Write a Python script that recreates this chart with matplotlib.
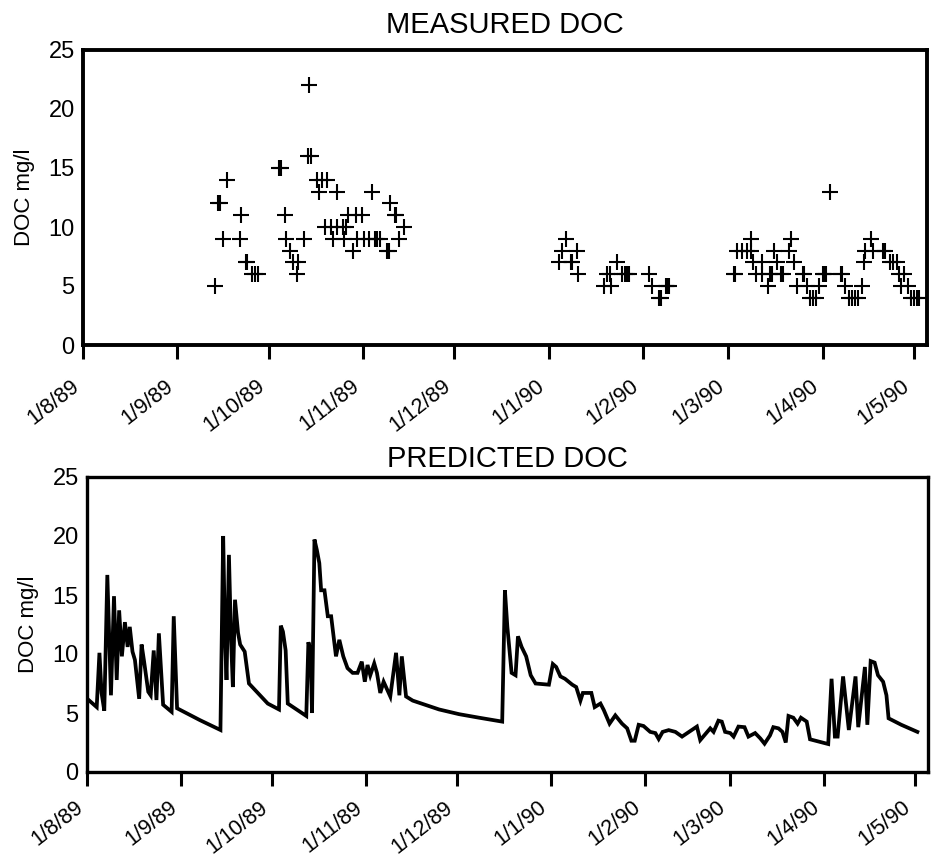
import numpy as np
import matplotlib
matplotlib.use("Agg")
import matplotlib.pyplot as plt
import matplotlib.dates as mdates

plt.rcParams['font.family'] = ['Liberation Sans', 'DejaVu Sans']

# ---------------- data ----------------
start_date = '1989-08-01'   # day 0

measured_day = [43.4, 44.5, 45.0, 46, 47.3, 51.6, 52, 53.5, 54, 55.5, 56.5, 57.5,
                64.5, 65, 66.4, 66.8, 68, 69, 70.8, 70.3, 72.5, 74.1, 74, 75,
                77, 78.6, 80.3, 77.4, 83.4, 79.6, 81.6, 83.6, 85.5, 86.5,
                82.3, 85.6, 90, 92.2, 93.9, 96.1, 96.6, 97.7, 87, 89.6, 91.6,
                88.7, 95, 99.9, 100.6, 101, 102.5, 103, 103.7, 105.4,
                158.6, 157.5, 162.2, 156.3, 160.2, 160.5, 162.7,
                175.5, 172, 173.3, 177.2, 178, 178.6, 179.4, 171.2, 173.4,
                186, 187, 191.5, 192, 192.5, 189.2, 189.8,
                245.5, 219.4, 232.6, 258.9, 215, 216.6, 218, 219.4, 227, 232,
                257, 259.4, 262.7, 263.5,
                220, 223.2, 228, 233.7, 256.7, 265, 266, 267.6,
                214, 214.3, 221, 223.2, 225.8, 226.5, 229.3, 230.1, 236.4, 236.8,
                243, 243.5, 244, 249, 249.3, 268, 269.7,
                225, 234.7, 238, 241.9, 250.3, 256, 268.8, 271,
                239, 239.7, 240.7, 251.6, 252.6, 253.6, 254.6, 272, 273, 274, 274.6]
measured_doc = [5, 12, 12, 9, 14, 9, 11, 7, 7, 6, 6, 6,
                15, 15, 11, 9, 8, 7, 7, 6, 9, 22, 16, 16,
                14, 14, 14, 13, 13, 10, 10, 10, 10, 10,
                9, 9, 9, 9, 9, 9, 9, 9, 11, 11, 11,
                8, 13, 8, 8, 12, 11, 11, 9, 10,
                9, 8, 8, 7, 7, 7, 6,
                7, 6, 6, 6, 6, 6, 6, 5, 5,
                6, 5, 5, 5, 5, 4, 4,
                13, 9, 9, 9, 8, 8, 8, 8, 8, 8,
                8, 8, 8, 8,
                7, 7, 7, 7, 7, 7, 7, 7,
                6, 6, 6, 6, 6, 6, 6, 6, 6, 6,
                6, 6, 6, 6, 6, 6, 6,
                5, 5, 5, 5, 5, 5, 5, 5,
                4, 4, 4, 4, 4, 4, 4, 4, 4, 4, 4]

predicted_day = [0.1, 3.2, 4.1, 4.8, 5.7, 6.7, 7.9, 8.9, 9.8, 10.6, 11.5, 12.5, 13.4,
                 14.1, 15.0, 15.8, 17.2, 18.0, 18.75, 20.2, 21.0, 22.0, 22.9, 23.7,
                 25.1, 27.9, 28.6, 29.7, 37.2, 44.0,
                 44.9, 45.5, 46.0, 46.8, 47.5, 48.1, 48.8, 49.8, 50.5, 52.0, 53.4,
                 59.6, 63.3, 63.9, 64.6, 65.5, 66.2, 72.3, 73.0, 73.7, 74.2, 75.0,
                 75.8, 76.6, 77.2, 78.3, 79.4, 80.5, 82.1, 83.2, 84.5, 85.9, 87.6,
                 89.2, 90.6, 91.6, 92.5, 93.4, 94.7, 95.6, 96.7, 97.8, 100.0, 101.9,
                 103.0, 103.8, 105.2, 107.4, 116.1,
                 122.7, 129.3, 136.9, 137.8, 138.6, 140.0, 141.3, 142.1, 143.3, 144.8,
                 146.3, 147.9, 152.3, 153.6, 154.7, 156.1, 157.6, 160.0, 161.3, 162.7,
                 163.5, 166.3, 167.4, 169.3, 170.4, 172.3, 174.2, 176.4, 178.1, 179.5,
                 180.6, 181.9, 183.5, 185.7, 187.4, 188.5, 189.8, 191.8, 194.0,
                 196.2, 201.1, 202.2, 205.5, 206.6, 208.2, 209.3, 210.4, 212.1, 213.2,
                 214.8, 216.8, 218.1, 220.3, 222.0, 223.4, 225.2, 226.3, 228.0, 229.3,
                 230.4, 231.3, 232.9, 234.3, 235.4, 237.3, 238.4, 244.4, 245.5, 246.6,
                 247.5, 249.3, 251.2, 253.4, 254.3, 256.5, 257.3, 258.4, 259.7, 260.8,
                 262.5, 263.6, 264.3, 268.5, 273.8]
predicted_doc = [6.2, 5.5, 10.1, 6.7, 5.2, 16.7, 6.5, 14.9, 7.8, 13.7, 9.8, 12.7, 10.6,
                 12.3, 10.2, 9.5, 6.2, 10.8, 9.5, 6.8, 6.5, 10.3, 6.1, 11.75,
                 5.7, 5.1, 13.2, 5.4, 4.4, 3.56,
                 20.0, 11.5, 7.8, 18.4, 11.2, 7.2, 14.6, 11.8, 10.8, 10.2, 7.5,
                 5.8, 5.3, 12.4, 11.9, 10.3, 5.8, 4.75, 11.0, 10.3, 5.0, 19.7,
                 18.8, 17.7, 15.4, 15.4, 13.2, 13.2, 9.8, 11.2, 9.8, 8.8, 8.4,
                 8.4, 9.35, 7.65, 9.07, 8.2, 9.2, 8.4, 6.7, 7.65, 6.4, 10.1,
                 6.5, 9.8, 6.4, 6.05, 5.3,
                 4.9, 4.6, 4.27, 15.4, 12.3, 8.4, 8.2, 11.5, 10.6, 9.8,
                 8.2, 7.5, 7.4, 9.15, 8.9, 8.1, 7.9, 7.4, 7.2, 6.05,
                 6.7, 6.7, 5.5, 5.8, 5.25, 4.1, 4.8, 4.1, 3.7, 2.65,
                 2.65, 4.0, 3.9, 3.4, 3.3, 2.8, 3.4, 3.55, 3.4,
                 3.0, 3.85, 2.7, 3.7, 3.4, 4.35, 4.27, 3.4, 3.3, 3.0,
                 3.85, 3.8, 3.0, 3.3, 2.85, 2.4, 3.1, 3.8, 3.7, 3.4,
                 2.5, 4.75, 4.6, 4.1, 4.6, 4.27, 2.77, 2.37, 7.9, 3.0,
                 3.0, 8.1, 3.56, 8.1, 3.8, 8.9, 4.0, 9.4, 9.27, 8.2,
                 7.65, 6.5, 4.55, 4.0, 3.4]

tick_dates = ['1989-08-01', '1989-09-01', '1989-10-01', '1989-11-01', '1989-12-01',
              '1990-01-01', '1990-02-01', '1990-03-01', '1990-04-01', '1990-05-01']
tick_labels = ['1/8/89', '1/9/89', '1/10/89', '1/11/89', '1/12/89',
               '1/1/90', '1/2/90', '1/3/90', '1/4/90', '1/5/90']
y_ticks = [0, 5, 10, 15, 20, 25]
titles = ['MEASURED DOC', 'PREDICTED DOC']
y_label = 'DOC mg/l'

# ---------------- plotting ----------------
t0 = mdates.date2num(np.datetime64(start_date))
tick_pos = [mdates.date2num(np.datetime64(d)) for d in tick_dates]

fig = plt.figure(figsize=(9.32, 8.58), dpi=100)
ax1 = fig.add_axes([83 / 932, 1 - 345 / 858, 844 / 932, 295 / 858])
ax2 = fig.add_axes([87 / 932, 1 - 772 / 858, 841 / 932, 295 / 858])

ax1.plot(t0 + np.array(measured_day), measured_doc, linestyle='none',
         marker='+', markersize=11, markeredgewidth=1.5, color='black')
ax2.plot(t0 + np.array(predicted_day), predicted_doc, color='black',
         linewidth=2.7, solid_joinstyle='miter')

for ax, title, pad, slw, xpad in ((ax1, titles[0], 12, 2.8, 12), (ax2, titles[1], 7, 2.4, 8)):
    ax.set_xlim(t0, t0 + 277.3)
    ax.set_ylim(0, 25)
    ax.set_yticks(y_ticks)
    ax.set_xticks(tick_pos)
    ax.set_xticklabels(tick_labels, rotation=38, ha='right', fontsize=15.5)
    for lbl in ax.get_xticklabels():
        lbl.set_transform(lbl.get_transform() +
                          matplotlib.transforms.ScaledTranslation(4 / 100, 0, fig.dpi_scale_trans))
    ax.tick_params(axis='x', direction='out', length=10, width=2.2, pad=xpad)
    ax.tick_params(axis='y', length=0, pad=6, labelsize=17)
    for s in ax.spines.values():
        s.set_linewidth(slw)
    ax.set_title(title, fontsize=21, pad=pad)
    ax.set_ylabel(y_label, fontsize=16, labelpad=10)

fig.savefig('out.png', dpi=100)
